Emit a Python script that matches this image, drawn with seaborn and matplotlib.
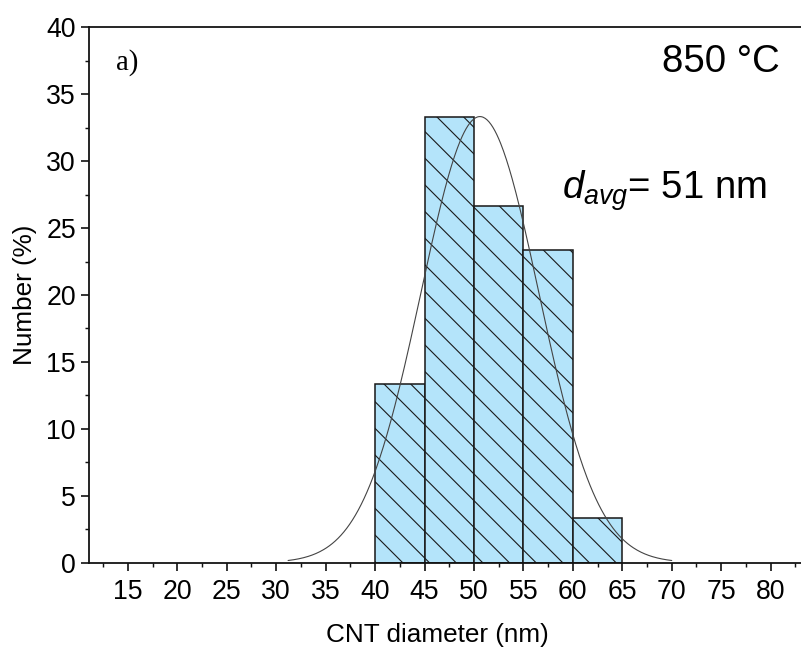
import numpy as np
import pandas as pd
import matplotlib
matplotlib.use("Agg")
import matplotlib.pyplot as plt
from matplotlib.ticker import MultipleLocator
import seaborn as sns

# Histogram of CNT diameters grown at 850 °C (share of tubes per 5 nm bin)
bin_edges = [40, 45, 50, 55, 60, 65]
bin_centers = [42.5, 47.5, 52.5, 57.5, 62.5]
number_pct = [13.33, 33.33, 26.67, 23.33, 3.33]

# Gaussian fit to the distribution
fit_mean = 50.6
fit_sigma = 5.95
fit_peak = 33.33
fit_range = (31.2, 70.0)

sns.set_style("ticks")
plt.rcParams["font.family"] = ["Liberation Sans", "DejaVu Sans"]
plt.rcParams["mathtext.fontset"] = "custom"
plt.rcParams["mathtext.rm"] = "Liberation Sans"
plt.rcParams["mathtext.it"] = "Liberation Sans:italic"
plt.rcParams["hatch.linewidth"] = 1.0
plt.rcParams["hatch.color"] = "#1a1a1a"
for key in ["text.color", "axes.labelcolor", "xtick.color", "ytick.color",
            "xtick.labelcolor", "ytick.labelcolor"]:
    plt.rcParams[key] = "black"

DPI = 80
fig = plt.figure(figsize=(801 / DPI, 647 / DPI), dpi=DPI)
ax = fig.add_axes([0.1115, 0.1303, 0.8885, 0.8275])

df = pd.DataFrame({"diameter": bin_centers, "pct": number_pct})
sns.histplot(data=df, x="diameter", weights="pct", bins=bin_edges,
             color="#b4e4fa", edgecolor="#1a1a1a", linewidth=1.4,
             alpha=1.0, ax=ax, zorder=2)
for p in ax.patches:
    p.set_hatch("\\")

xs = np.linspace(fit_range[0], fit_range[1], 400)
ys = fit_peak * np.exp(-(xs - fit_mean) ** 2 / (2 * fit_sigma ** 2))
sns.lineplot(x=xs, y=ys, color="#444444", linewidth=1.0, ax=ax, zorder=3)

ax.set_xlim(11.1, 83.07)
ax.set_ylim(0, 40)
ax.xaxis.set_major_locator(MultipleLocator(5))
ax.xaxis.set_minor_locator(MultipleLocator(2.5))
ax.yaxis.set_major_locator(MultipleLocator(5))
ax.yaxis.set_minor_locator(MultipleLocator(2.5))
ax.set_xticks(np.arange(15, 81, 5))

for side in ["left", "bottom", "top"]:
    ax.spines[side].set_linewidth(1.6)
    ax.spines[side].set_color("#111111")
ax.spines["right"].set_visible(False)

ax.tick_params(axis="both", which="major", length=7, width=1.5,
               labelsize=24, color="#111111", labelcolor="black",
               direction="out")
ax.tick_params(axis="x", which="major", pad=8)
ax.tick_params(axis="y", which="major", pad=5)
ax.tick_params(axis="both", which="minor", length=4, width=1.3,
               color="#111111", direction="out")
ax.tick_params(top=False, right=False)

ax.set_xlabel("CNT diameter (nm)", fontsize=23.5, color="black")
ax.set_ylabel("Number (%)", fontsize=23.5, color="black")
ax.xaxis.set_label_coords(0.489, -0.112)
ax.yaxis.set_label_coords(-0.074, 0.5)

ax.text(0.037, 0.935, "a)", transform=ax.transAxes, fontsize=26,
        family=["Liberation Serif", "DejaVu Serif"], va="center", ha="left",
        color="black")
ax.text(0.97, 0.935, "850 °C", transform=ax.transAxes, fontsize=34.5,
        va="center", ha="right", color="black")
ax.text(0.664, 0.695, r"$d_{avg}$= 51 nm", transform=ax.transAxes,
        fontsize=34.5, va="center", ha="left", color="black")

fig.savefig("out.png", dpi=DPI)
